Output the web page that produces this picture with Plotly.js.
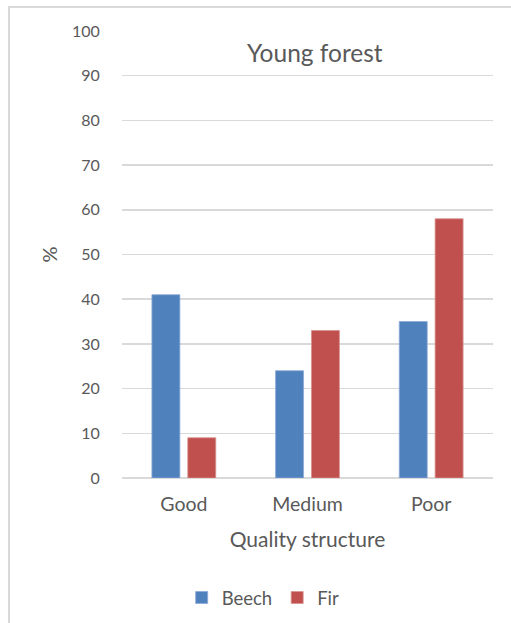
<!DOCTYPE html>
<html>
<head>
<meta charset="utf-8">
<script src="https://cdn.plot.ly/plotly-3.0.1.min.js"></script>
<style>
html,body{margin:0;padding:0;background:#fff;overflow:hidden;}
#wrap{position:relative;width:511px;height:623px;}
#plot{position:absolute;left:0;top:0;width:511px;height:623px;}
#frame{position:absolute;left:8px;top:6px;width:700px;height:800px;border:2px solid #d9d9d9;pointer-events:none;box-sizing:border-box;}
</style>
</head>
<body>
<div id="wrap"><div id="plot"></div><div id="frame"></div></div>
<script>
const categories = ["Good", "Medium", "Poor"];
const beech = [41, 24, 35];
const fir = [9, 33, 58];
const seriesNames = ["Beech", "Fir"];
const yTicks = [0, 10, 20, 30, 40, 50, 60, 70, 80, 90, 100];

const font = "Lato, 'Open Sans', sans-serif";
const grey = "#595959";

const data = [
  {type: "bar", name: seriesNames[0], x: categories, y: beech,
   marker: {color: "#4F81BD", line: {color: "#8DAAD8", width: 0.8}}},
  {type: "bar", name: seriesNames[1], x: categories, y: fir,
   marker: {color: "#C0504D", line: {color: "#D99391", width: 0.8}}}
];

const layout = {
  width: 511, height: 623,
  margin: {l: 122, r: 18, t: 31, b: 145},
  paper_bgcolor: "rgba(0,0,0,0)",
  plot_bgcolor: "#fff",
  font: {family: font, color: grey, size: 16},
  barmode: "group",
  bargap: 0.42,
  bargroupgap: 0.22,
  showlegend: true,
  legend: {orientation: "h", x: 0.515, xref: "container", xanchor: "center",
           y: 1 - 598/623, yref: "container", yanchor: "middle",
           font: {family: font, size: 18.5, color: grey}, traceorder: "normal"},
  xaxis: {
    showgrid: false, showline: false, zeroline: false,
    ticks: "outside", ticklen: 9, tickcolor: "rgba(0,0,0,0)",
    tickfont: {family: font, size: 19.5, color: grey},
    title: {text: "Quality structure", font: {family: font, size: 21, color: grey}, standoff: 17}
  },
  yaxis: {
    range: [0, 100], tickvals: yTicks, ticktext: yTicks.map(String),
    showgrid: true, gridcolor: "#d9d9d9", gridwidth: 1.5,
    zeroline: true, zerolinecolor: "#d9d9d9", zerolinewidth: 1.5,
    showline: false, ticks: "outside", ticklen: 18, tickcolor: "rgba(0,0,0,0)",
    tickfont: {family: font, size: 16, color: grey},
    title: {text: "%", font: {family: font, size: 20, color: grey}, standoff: 8}
  },
  annotations: [{
    text: "Young forest", xref: "paper", yref: "paper",
    x: 0.52, y: 1 - 21/447, xanchor: "center", yanchor: "middle",
    showarrow: false, font: {family: font, size: 24.5, color: grey}
  }]
};

Plotly.newPlot("plot", data, layout, {displayModeBar: false, staticPlot: true});
</script>
</body>
</html>
